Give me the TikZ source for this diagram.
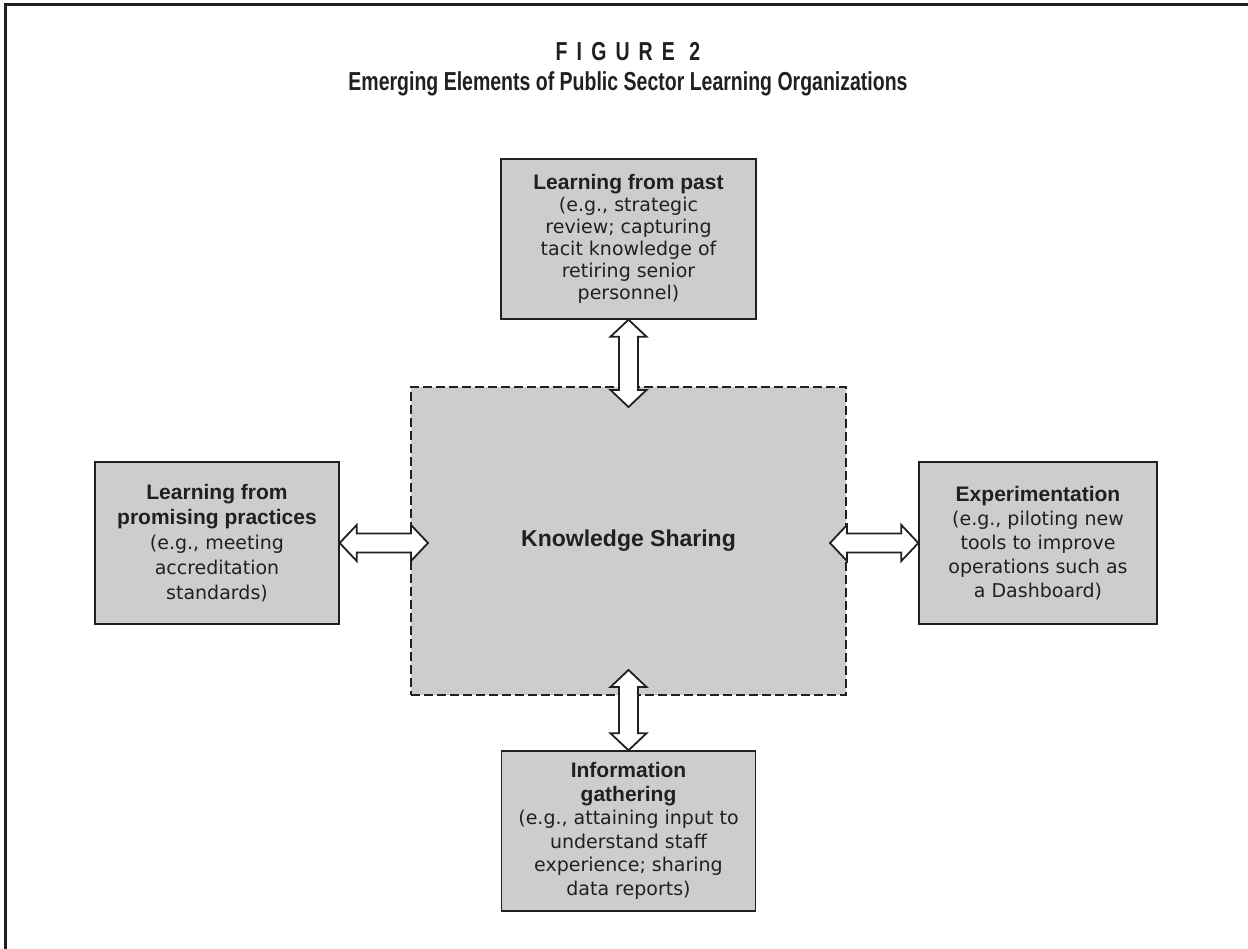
\documentclass[tikz,border=0pt]{standalone}
\usepackage{fontspec}
\setmainfont{DejaVu Sans}
\newfontfamily\hdfont{Liberation Sans}
\newfontfamily\ttlfont{Liberation Sans}[FakeStretch=0.75]
\usetikzlibrary{calc}
\definecolor{boxgray}{RGB}{205,205,207}
\definecolor{ink}{RGB}{35,31,32}
\tikzset{
  elbox/.style={draw=ink, line width=1.4pt, fill=boxgray, align=center, inner sep=0pt,
    text=ink, font=\fontsize{19}{#1}\selectfont},
  elbox/.default=23,
  centerbox/.style={draw=ink, line width=2.6pt, dash pattern=on 9pt off 4pt, fill=boxgray,
    inner sep=0pt, text=ink},
  blockarr/.style={draw=ink, line width=1.8pt, fill=white, line join=miter},
  frameline/.style={draw=ink, line width=3pt},
  titletext/.style={text=ink, font=\ttlfont\bfseries\fontsize{26}{28}\selectfont},
  figlabel/.style={text=ink, font={\ttlfont\bfseries\fontsize{26}{28}\selectfont\addfontfeature{LetterSpace=35}}},
}
\newcommand{\hd}[1]{{\hdfont\bfseries\fontsize{21}{23}\selectfont #1}}
\newcommand{\VArrow}[2]{%
  \draw[blockarr] let \p1=(#1), \p2=(#2) in
    (\x1,\y1) -- (\x1+18pt,\y1-17pt) -- (\x1+9.5pt,\y1-17pt) -- (\x1+9.5pt,\y2+17pt)
    -- (\x1+18pt,\y2+17pt) -- (\x1,\y2) -- (\x1-18pt,\y2+17pt) -- (\x1-9.5pt,\y2+17pt)
    -- (\x1-9.5pt,\y1-17pt) -- (\x1-18pt,\y1-17pt) -- cycle;}
\newcommand{\HArrow}[2]{%
  \draw[blockarr] let \p1=(#1), \p2=(#2) in
    (\x1,\y1) -- (\x1+17pt,\y1+18pt) -- (\x1+17pt,\y1+9.5pt) -- (\x2-17pt,\y1+9.5pt)
    -- (\x2-17pt,\y1+18pt) -- (\x2,\y1) -- (\x2-17pt,\y1-18pt) -- (\x2-17pt,\y1-9.5pt)
    -- (\x1+17pt,\y1-9.5pt) -- (\x1+17pt,\y1-18pt) -- cycle;}
\begin{document}
\begin{tikzpicture}[x=1pt,y=-1pt]
\fill[white] (0,0) rectangle (1248,949);
\useasboundingbox (0,0) rectangle (1248,949);
% frame
\coordinate (fTL) at (5,5);
\coordinate (fTR) at (1248,5);
\coordinate (fBL) at (5,949);
\draw[frameline] (fTR) -- (fTL) -- (fBL);
% title
\node[figlabel] (fig) at (628,52) {FIGURE 2};
\node[titletext] (ttl) at (628,84) {Emerging Elements of Public Sector Learning Organizations};
% boxes
\node[elbox=22, minimum width=255pt, minimum height=160pt] (top) at (628.5,239)
  {\hd{Learning from past}\\(e.g., strategic\\review; capturing\\tacit knowledge of\\retiring senior\\personnel)};
\node[centerbox, minimum width=435pt, minimum height=308pt] (ks) at (628.5,541)
  {\hdfont\bfseries\fontsize{23}{26}\selectfont Knowledge Sharing};
\node[elbox=25, minimum width=244pt, minimum height=162pt] (left) at (217,543)
  {\hd{Learning from}\\\hd{promising practices}\\(e.g., meeting\\accreditation\\standards)};
\node[elbox=24, minimum width=238pt, minimum height=162pt] (right) at (1038,543)
  {\hd{Experimentation}\\(e.g., piloting new\\tools to improve\\operations such as\\a Dashboard)};
\node[elbox=23.5, minimum width=254pt, minimum height=160pt] (bottom) at (628.5,831)
  {\hd{Information}\\\hd{gathering}\\(e.g., attaining input to\\understand staff\\experience; sharing\\data reports)};
% arrow inner ends
\coordinate (tA) at (628.5,407);
\coordinate (bA) at (628.5,670);
\coordinate (lA) at (428,543);
\coordinate (rA) at (830,543);
\VArrow{top.south}{tA}
\VArrow{bA}{bottom.north}
\HArrow{left.east}{lA}
\HArrow{rA}{right.west}
\end{tikzpicture}
\end{document}
